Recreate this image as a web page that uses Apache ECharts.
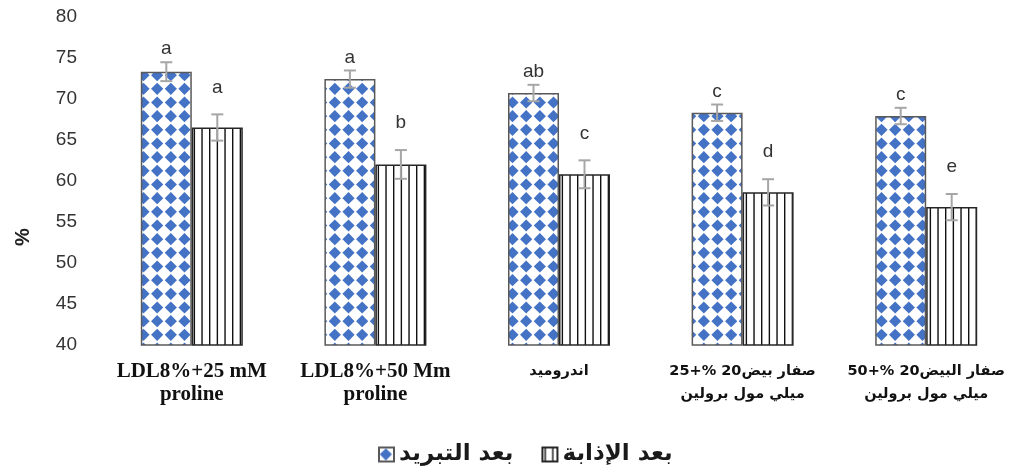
<!DOCTYPE html>
<html>
<head>
<meta charset="utf-8">
<script src="https://cdn.jsdelivr.net/npm/echarts@6/dist/echarts.min.js"></script>
<style>
  html, body { margin: 0; padding: 0; background: #ffffff; }
  #chart { width: 1018px; height: 467px; }
</style>
</head>
<body>
<div id="chart"></div>
<script>
// Sperm motility (%) after cooling and after thawing, per extender treatment
const categories = [
  'LDL8%+25 mM\nproline',
  'LDL8%+50 Mm\nproline',
  'اندروميد',
  'صفار بيض20 %+25\nميلي مول برولين',
  'صفار البيض20 %+50\nميلي مول برولين'
];
const seriesNames = ['بعد التبريد', 'بعد الإذابة'];

const afterCooling = [73.3, 72.4, 70.7, 68.3, 67.9];
const coolingErr = [1.15, 1.05, 1.0, 1.0, 1.0];
const coolingLetters = ['a', 'a', 'ab', 'c', 'c'];

const afterThawing = [66.5, 62.0, 60.8, 58.6, 56.8];
const thawingErr = [1.6, 1.75, 1.7, 1.6, 1.6];
const thawingLetters = ['a', 'b', 'c', 'd', 'e'];

const yMin = 40, yMax = 80, yStep = 5;

// ---- fill patterns ----
function diamondPattern() {
  const size = 41, n = 3, step = size / n, r = 6.1;
  const c = document.createElement('canvas');
  c.width = size; c.height = size;
  const ctx = c.getContext('2d');
  ctx.fillStyle = '#ffffff';
  ctx.fillRect(0, 0, size, size);
  ctx.fillStyle = '#4472C4';
  for (let i = -1; i <= n; i++) {
    for (let j = -1; j <= n; j++) {
      const cx = i * step + step / 2, cy = j * step + step / 2;
      ctx.beginPath();
      ctx.moveTo(cx, cy - r);
      ctx.lineTo(cx + r, cy);
      ctx.lineTo(cx, cy + r);
      ctx.lineTo(cx - r, cy);
      ctx.closePath();
      ctx.fill();
    }
  }
  return c;
}
function stripePattern() {
  const w = 23, h = 8, n = 3, step = w / n;
  const c = document.createElement('canvas');
  c.width = w; c.height = h;
  const ctx = c.getContext('2d');
  ctx.fillStyle = '#ffffff';
  ctx.fillRect(0, 0, w, h);
  ctx.fillStyle = '#111111';
  for (let k = 0; k < n; k++) {
    ctx.fillRect(k * step + 2, 0, 1.4, h);
  }
  return c;
}

const BAR_W = 51;
const CAP = 6;
const ERR_COLOR = '#A6A6A6';
const LETTER_FONT = '19px "Liberation Sans", Arial, sans-serif';

function errorRenderer(side, letterGap, letters) {
  return function (params, api) {
    const i = api.value(0), v = api.value(1), e = api.value(2);
    const top = api.coord([i, v + e]);
    const bot = api.coord([i, v - e]);
    const x = top[0] + side * BAR_W / 2;
    const lineStyle = { stroke: ERR_COLOR, lineWidth: 2 };
    return {
      type: 'group',
      children: [
        { type: 'line', shape: { x1: x, y1: top[1], x2: x, y2: bot[1] }, style: lineStyle },
        { type: 'line', shape: { x1: x - CAP, y1: top[1], x2: x + CAP, y2: top[1] }, style: lineStyle },
        { type: 'line', shape: { x1: x - CAP, y1: bot[1], x2: x + CAP, y2: bot[1] }, style: lineStyle },
        {
          type: 'text', x: x, y: top[1] - letterGap,
          style: {
            text: letters[params.dataIndex], fill: '#333333', font: LETTER_FONT,
            align: 'center', verticalAlign: 'middle'
          }
        }
      ]
    };
  };
}

const isArabic = s => /[\u0600-\u06FF]/.test(s);

const chart = echarts.init(document.getElementById('chart'), null, { renderer: 'canvas' });
chart.setOption({
  animation: false,
  backgroundColor: '#ffffff',
  grid: { left: 100, top: 16.7, width: 925, height: 328.3 },
  legend: {
    data: seriesNames,
    left: 373, top: 438,
    icon: 'rect', itemWidth: 15, itemHeight: 14, itemGap: 28,
    textStyle: {
      fontFamily: '"DejaVu Sans", sans-serif', fontWeight: 'bold', fontSize: 23, color: '#1a1a1a'
    }
  },
  xAxis: {
    type: 'category',
    data: categories,
    axisLine: { show: false },
    axisTick: { show: false },
    axisLabel: {
      interval: 0, margin: 15,
      fontFamily: '"Liberation Serif", "Times New Roman", serif', fontWeight: 'bold',
      fontSize: 21, lineHeight: 23, color: '#111111',
      formatter: v => isArabic(v) ? v.split('\n').map(l => '{ar|' + l + '}').join('\n') : v,
      rich: {
        ar: {
          fontFamily: '"DejaVu Sans", sans-serif', fontWeight: 'bold',
          fontSize: 14.5, lineHeight: 23, color: '#111111'
        }
      }
    }
  },
  yAxis: {
    type: 'value', min: yMin, max: yMax, interval: yStep,
    axisLine: { show: false }, axisTick: { show: false }, splitLine: { show: false },
    axisLabel: {
      margin: 23, color: '#333333', fontSize: 19,
      fontFamily: '"Liberation Sans", Arial, sans-serif'
    }
  },
  graphic: [{
    type: 'text', x: 23, y: 237, rotation: Math.PI / 2,
    style: {
      text: '%', fill: '#222222', font: 'bold 20px "Liberation Sans", Arial, sans-serif',
      align: 'center', verticalAlign: 'middle'
    }
  }],
  series: [
    {
      name: seriesNames[0], type: 'bar', barWidth: BAR_W, barGap: '0%',
      data: afterCooling,
      itemStyle: {
        color: { image: diamondPattern(), repeat: 'repeat' },
        borderColor: '#595959', borderWidth: 1.5
      }
    },
    {
      name: seriesNames[1], type: 'bar', barWidth: BAR_W, barGap: '0%',
      data: afterThawing,
      itemStyle: {
        color: { image: stripePattern(), repeat: 'repeat' },
        borderColor: '#262626', borderWidth: 1.5
      }
    },
    {
      name: 'cooling-sd', type: 'custom', silent: true, z: 10,
      encode: { x: 0, y: 1 },
      data: afterCooling.map((v, i) => [i, v, coolingErr[i]]),
      renderItem: errorRenderer(-1, 13, coolingLetters)
    },
    {
      name: 'thawing-sd', type: 'custom', silent: true, z: 10,
      encode: { x: 0, y: 1 },
      data: afterThawing.map((v, i) => [i, v, thawingErr[i]]),
      renderItem: errorRenderer(1, 27, thawingLetters)
    }
  ]
});
</script>
</body>
</html>
